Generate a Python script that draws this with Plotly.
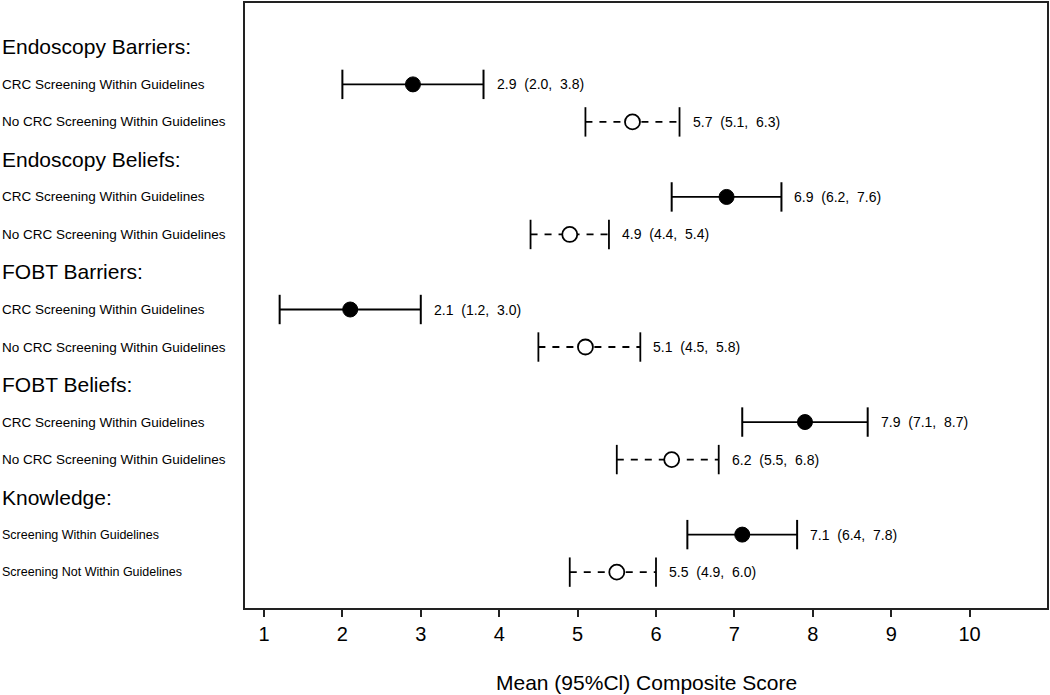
import plotly.graph_objects as go

# ---- data ----
groups = ["Endoscopy Barriers:", "Endoscopy Beliefs:", "FOBT Barriers:", "FOBT Beliefs:", "Knowledge:"]
yes_labels = ["CRC Screening Within Guidelines"] * 4 + ["Screening Within Guidelines"]
no_labels = ["No CRC Screening Within Guidelines"] * 4 + ["Screening Not Within Guidelines"]
yes_mean = [2.9, 6.9, 2.1, 7.9, 7.1]
yes_lo = [2.0, 6.2, 1.2, 7.1, 6.4]
yes_hi = [3.8, 7.6, 3.0, 8.7, 7.8]
no_mean = [5.7, 4.9, 5.1, 6.2, 5.5]
no_lo = [5.1, 4.4, 4.5, 5.5, 4.9]
no_hi = [6.3, 5.4, 5.8, 6.8, 6.0]
x_ticks = [1, 2, 3, 4, 5, 6, 7, 8, 9, 10]

n = len(groups)
head_rows = [3 * k for k in range(n)]
yes_rows = [3 * k + 1 for k in range(n)]
no_rows = [3 * k + 2 for k in range(n)]

FONT = "Liberation Sans, Arial, Helvetica, sans-serif"

def seg(lo, hi, rows):
    xs, ys = [], []
    for a, b, r in zip(lo, hi, rows):
        xs += [a, b, None]
        ys += [r, r, None]
    return xs, ys

fig = go.Figure()

xs, ys = seg(yes_lo, yes_hi, yes_rows)
fig.add_trace(go.Scatter(x=xs, y=ys, mode="lines", line=dict(color="black", width=1.8),
                         hoverinfo="skip", showlegend=False))
xs, ys = seg(no_lo, no_hi, no_rows)
fig.add_trace(go.Scatter(x=xs, y=ys, mode="lines", line=dict(color="black", width=1.8, dash="7px,7px"),
                         hoverinfo="skip", showlegend=False))

# caps
fig.add_trace(go.Scatter(x=yes_lo + yes_hi, y=yes_rows + yes_rows, mode="markers",
                         marker=dict(symbol="line-ns", size=21, line=dict(color="black", width=2)),
                         hoverinfo="skip", showlegend=False))
fig.add_trace(go.Scatter(x=no_lo + no_hi, y=no_rows + no_rows, mode="markers",
                         marker=dict(symbol="line-ns", size=21, line=dict(color="black", width=1.8)),
                         hoverinfo="skip", showlegend=False))

# means
fig.add_trace(go.Scatter(x=yes_mean, y=yes_rows, mode="markers",
                         marker=dict(symbol="circle", size=15, color="black",
                                     line=dict(color="black", width=1)),
                         showlegend=False))
fig.add_trace(go.Scatter(x=no_mean, y=no_rows, mode="markers",
                         marker=dict(symbol="circle", size=15, color="white",
                                     line=dict(color="black", width=1.8)),
                         showlegend=False))

annotations = []
plot_w = 1050 - 245 - 3
xlab = -245 / plot_w
for k in range(n):
    annotations.append(dict(text=groups[k], x=xlab, xref="paper", y=head_rows[k], yref="y",
                            xanchor="left", yanchor="middle", showarrow=False,
                            font=dict(family=FONT, size=21, color="black")))
    sub_size = 12.5 if k == n - 1 else 13.5
    annotations.append(dict(text=yes_labels[k], x=xlab, xref="paper", y=yes_rows[k], yref="y",
                            xanchor="left", yanchor="middle", showarrow=False,
                            font=dict(family=FONT, size=sub_size, color="black")))
    annotations.append(dict(text=no_labels[k], x=xlab, xref="paper", y=no_rows[k], yref="y",
                            xanchor="left", yanchor="middle", showarrow=False,
                            font=dict(family=FONT, size=sub_size, color="black")))
    for m, lo, hi, r in [(yes_mean[k], yes_lo[k], yes_hi[k], yes_rows[k]),
                         (no_mean[k], no_lo[k], no_hi[k], no_rows[k])]:
        annotations.append(dict(text=f"{m:.1f}&nbsp; ({lo:.1f},&nbsp; {hi:.1f})", x=hi, xref="x", y=r, yref="y",
                                xanchor="left", yanchor="middle", xshift=11, showarrow=False,
                                font=dict(family=FONT, size=14, color="black")))

annotations.append(dict(text="Mean (95%Cl) Composite Score", x=0.5, xref="paper",
                        y=-(683 - 608) / 607, yref="paper", xanchor="center", yanchor="middle",
                        showarrow=False, font=dict(family=FONT, size=21, color="black")))

fig.update_layout(
    width=1050, height=695,
    margin=dict(l=245, r=3, t=1, b=87),
    paper_bgcolor="white", plot_bgcolor="white",
    annotations=annotations,
    xaxis=dict(range=[0.758, 10.987], tickvals=x_ticks, ticktext=[str(t) for t in x_ticks],
               showgrid=False, zeroline=False, showline=True, mirror=True,
               linecolor="#222", linewidth=2, ticks="outside", ticklen=7, tickwidth=2,
               tickcolor="#222", tickfont=dict(family=FONT, size=20, color="black")),
    yaxis=dict(range=[14.956, -1.169], showgrid=False, zeroline=False, showline=True, mirror=True,
               linecolor="#222", linewidth=2, showticklabels=False, ticks=""),
)

fig.write_html("out.html", config={"displayModeBar": False},
               post_script="document.body.style.margin='0';document.body.style.padding='0';")
